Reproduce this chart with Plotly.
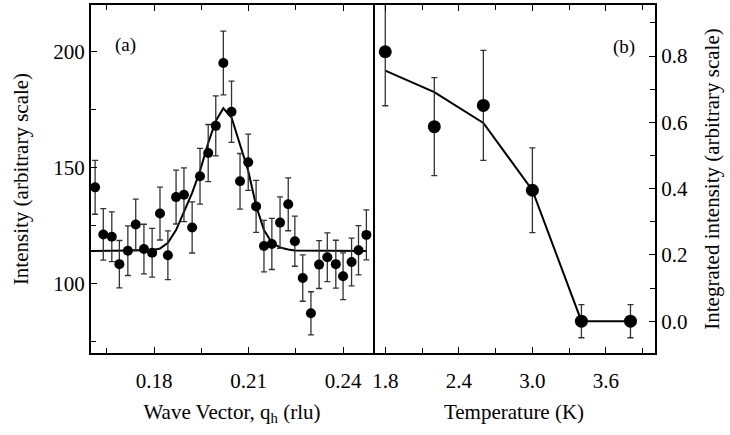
import plotly.graph_objects as go

# ---- panel (a): intensity vs wave vector ----
q_h = [0.1613, 0.1639, 0.1666, 0.1690, 0.1717, 0.1742, 0.1768, 0.1794, 0.1819, 0.1844,
       0.1870, 0.1895, 0.1921, 0.1946, 0.1972, 0.1996, 0.2020, 0.2046, 0.2073, 0.2099,
       0.2124, 0.2149, 0.2174, 0.2200, 0.2226, 0.2247, 0.2272, 0.2298, 0.2324, 0.2350,
       0.2377, 0.2400, 0.2427, 0.2449, 0.2474]
intensity = [141.4, 121.1, 120.1, 108.3, 114.1, 125.4, 114.8, 113.2, 130.1, 112.1,
             137.2, 138.2, 124.1, 146.2, 156.2, 167.9, 195.0, 174.0, 144.0, 152.2,
             133.2, 116.1, 117.0, 126.2, 134.1, 118.2, 102.3, 87.1, 108.1, 111.3,
             108.3, 103.1, 109.2, 114.3, 120.9]
intensity_err = [11.6, 11.1, 10.7, 10.2, 10.7, 10.9, 10.7, 10.5, 11.4, 10.5,
                 11.6, 11.6, 11.0, 12.0, 12.3, 12.9, 13.7, 13.2, 12.0, 12.1,
                 11.2, 11.1, 11.0, 11.1, 11.4, 10.8, 10.0, 9.3, 10.3, 10.5,
                 10.3, 10.1, 10.3, 10.6, 10.8]
fit_q = [0.1600, 0.1700, 0.1794, 0.1819, 0.1844, 0.1870, 0.1895, 0.1921, 0.1946, 0.1972,
         0.1996, 0.2020, 0.2046, 0.2073, 0.2099, 0.2124, 0.2149, 0.2174, 0.2200, 0.2226,
         0.2247, 0.2474]
fit_i = [114.0, 114.0, 114.3, 115.0, 117.5, 123.0, 130.5, 139.0, 148.5, 160.5,
         170.0, 175.5, 171.5, 159.5, 148.5, 133.5, 123.0, 117.5, 115.5, 114.6,
         114.2, 114.0]

# ---- panel (b): integrated intensity vs temperature ----
temp = [1.8, 2.2, 2.6, 3.0, 3.4, 3.8]
integ = [0.813, 0.587, 0.651, 0.395, 0.0, 0.0]
integ_err = [0.163, 0.148, 0.166, 0.128, 0.05, 0.05]
line_t = [1.8, 2.2, 2.6, 3.0, 3.4, 3.8]
line_v = [0.756, 0.691, 0.598, 0.395, 0.0, 0.0]

FONT = "Liberation Serif"
fig = go.Figure()

fig.add_trace(go.Scatter(x=fit_q, y=fit_i, mode="lines",
                         line=dict(color="black", width=2), xaxis="x", yaxis="y",
                         showlegend=False, hoverinfo="skip"))
fig.add_trace(go.Scatter(x=q_h, y=intensity, mode="markers",
                         marker=dict(color="black", size=10),
                         error_y=dict(type="data", array=intensity_err, color="#333333",
                                      thickness=1.3, width=3),
                         xaxis="x", yaxis="y", showlegend=False))
fig.add_trace(go.Scatter(x=line_t, y=line_v, mode="lines",
                         line=dict(color="black", width=2), xaxis="x2", yaxis="y2",
                         showlegend=False, hoverinfo="skip"))
fig.add_trace(go.Scatter(x=temp, y=integ, mode="markers",
                         marker=dict(color="black", size=13),
                         error_y=dict(type="data", array=integ_err, color="#333333",
                                      thickness=1.3, width=3),
                         xaxis="x2", yaxis="y2", showlegend=False))

base = dict(showline=True, linecolor="black", linewidth=2,
            ticks="inside", ticklen=6, tickcolor="black", showgrid=False,
            zeroline=False, tickfont=dict(family=FONT, size=21, color="black"))
minor_style = dict(ticks="inside", ticklen=5, tickcolor="black")

fig.update_layout(
    width=730, height=435,
    margin=dict(l=91, r=75, t=3, b=82),
    paper_bgcolor="white", plot_bgcolor="white",
    font=dict(family=FONT, size=21, color="black"),
    xaxis=dict(domain=[0, 0.5], range=[0.160, 0.2495], tickvals=[0.18, 0.21, 0.24],
               ticktext=["0.18", "0.21", "0.24"], mirror="ticks", ticklabelstandoff=8,
               minor=dict(tickvals=[0.165, 0.195, 0.225], **minor_style),
               title=dict(text="Wave Vector, q<sub>h</sub> (rlu)",
                          font=dict(family=FONT, size=21, color="black"), standoff=12),
               anchor="y", **base),
    yaxis=dict(range=[70, 220], tickvals=[100, 150, 200], mirror=True,
               minor=dict(tickvals=[75, 125, 175], **minor_style),
               title=dict(text="Intensity (arbitrary scale)",
                          font=dict(family=FONT, size=21), standoff=19),
               anchor="x", **base),
    xaxis2=dict(domain=[0.5, 1], range=[1.70, 4.0], tickvals=[1.8, 2.4, 3.0, 3.6],
                ticktext=["1.8", "2.4", "3.0", "3.6"], mirror="ticks", ticklabelstandoff=8,
                minor=dict(tickvals=[2.1, 2.7, 3.3, 3.9], **minor_style),
                title=dict(text="Temperature (K)", font=dict(family=FONT, size=21),
                           standoff=12),
                anchor="y2", **base),
    yaxis2=dict(range=[-0.096, 0.954], tickvals=[0.0, 0.2, 0.4, 0.6, 0.8],
                ticktext=["0.0", "0.2", "0.4", "0.6", "0.8"], mirror=False,
                minor=dict(tickvals=[-0.1, 0.1, 0.3, 0.5, 0.7, 0.9], **minor_style),
                side="right",
                title=dict(text="Integrated intensity (arbitrary scale)",
                           font=dict(family=FONT, size=21), standoff=17),
                anchor="x2", **base),
    annotations=[
        dict(text="(a)", x=0.062, y=0.886, xref="paper", yref="paper", showarrow=False,
             xanchor="center", yanchor="middle",
             font=dict(family=FONT, size=19, color="black")),
        dict(text="(b)", x=0.945, y=0.88, xref="paper", yref="paper", showarrow=False,
             xanchor="center", yanchor="middle",
             font=dict(family=FONT, size=19, color="black")),
    ],
)

fig.write_html("out.html")
